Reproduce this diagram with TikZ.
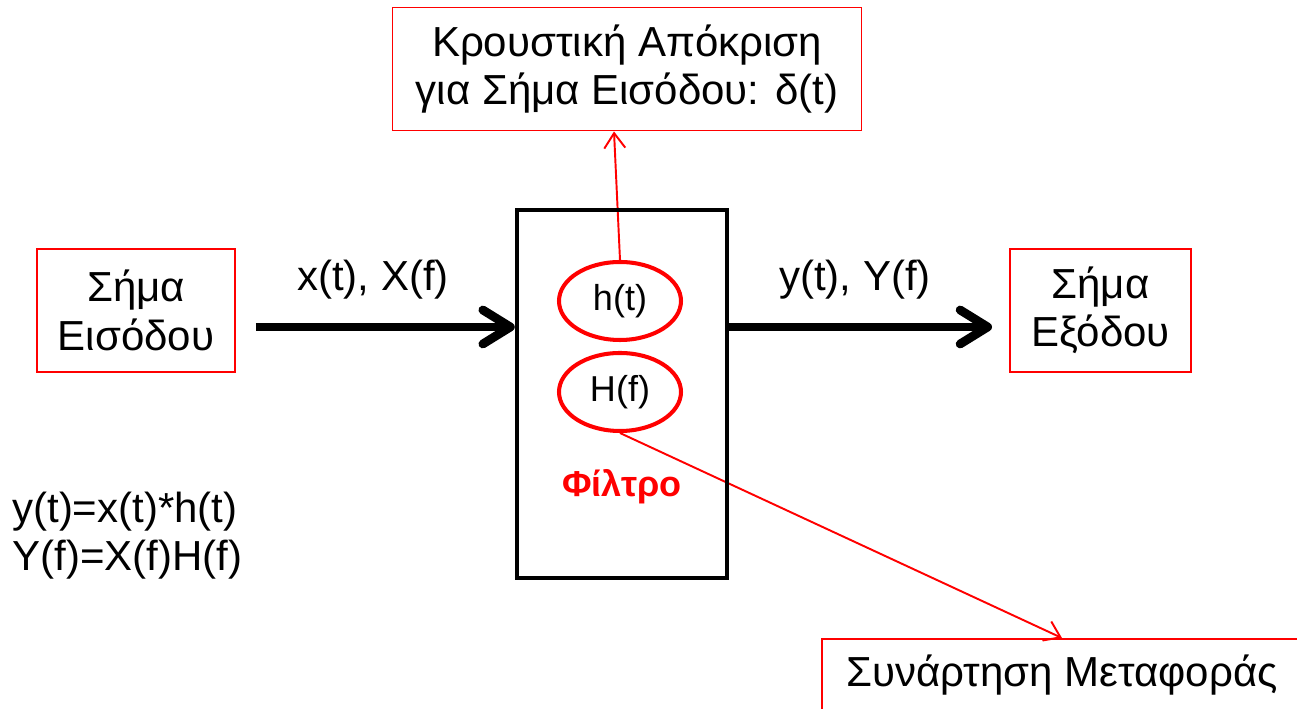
\documentclass[tikz,border=0pt]{standalone}
\usepackage{fontspec}
\setmainfont{Liberation Sans}
\usetikzlibrary{positioning,arrows.meta,shapes.geometric}
\newcommand\lbltxt{\fontsize{23.9}{27.5}\selectfont}
\newcommand\smltxt{\fontsize{20.5}{24}\selectfont}

\begin{document}
\begin{tikzpicture}[
  every node/.style={font=\lbltxt, inner sep=0pt},
  box/.style={draw=red, line width=1.1pt, align=center, minimum height=2.46cm},
  sig/.style={box, minimum width=3.96cm},
  resp/.style={ellipse, draw=red, line width=2.3pt, minimum width=2.44cm, minimum height=1.56cm, font=\smltxt},
  flow/.style={line width=5pt, -{Straight Barb[length=0.55cm, width=0.68cm, round]}},
  link/.style={red, line width=1.1pt, -{Straight Barb[length=0.3cm, width=0.42cm]}}]
  \useasboundingbox (0,0) rectangle (25.94,14.18);
  \clip (0,0) rectangle (25.94,14.18);
  % input and output signals
  \node[sig] (in) at (2.72,7.97) {Σήμα\\Εισόδου};
  \node[box, minimum width=3.62cm] (out) at (22.01,7.97) {Σήμα\\Εξόδου};
  \node (xl) at (7.46,8.58) {x(t), X(f)};
  \node (yl) at (17.1,8.58) {y(t), Y(f)};
  % inside the filter
  \node[resp] (ht) at (12.4,8.16) {h(t)};
  \node[resp] (Hf) at (12.4,6.34) {H(f)};
  \node[red, font=\smltxt\bfseries] (name) at (12.44,4.44) {Φίλτρο};
  % notes
  \node[box, minimum width=9.38cm] (imp) at (12.54,12.8) {Κρουστική Απόκριση\\για Σήμα Εισόδου: δ(t)};
  \node[box, minimum width=9.6cm, minimum height=1.46cm] (tf) at (21.24,0.67) {Συνάρτηση Μεταφοράς};
  \node[align=left, anchor=west] (eq) at (0.24,3.47) {y(t)=x(t)*h(t)\\Y(f)=X(f)H(f)};
  \draw[link] (ht.north) -- ([xshift=-0.26cm]imp.south);
  \draw[link] (Hf.south) -- (tf.north);
  % filter
  \node[draw, line width=2.56pt, minimum width=4.2cm, minimum height=7.36cm] (filt) at (12.44,6.30) {};
  \draw[flow, shorten <=0.4cm] ([yshift=-0.33cm]in.east) -- ([yshift=-0.33cm]in.east -| filt.west);
  \draw[flow, shorten >=0.34cm] ([yshift=-0.33cm]in.east -| filt.east) -- ([yshift=-0.33cm]out.west);
\end{tikzpicture}
\end{document}
